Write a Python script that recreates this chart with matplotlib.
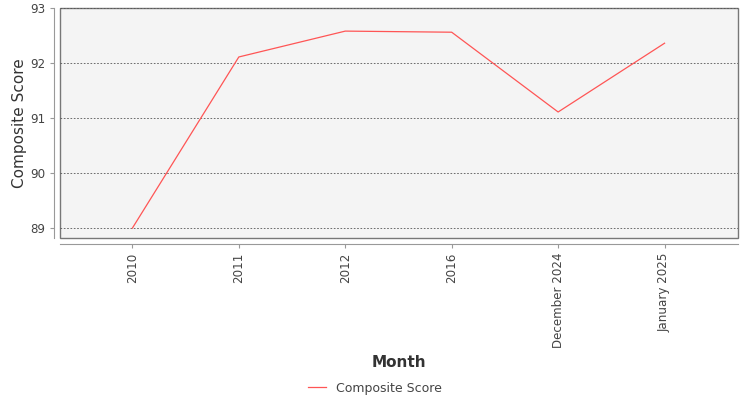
import numpy as np
import matplotlib.pyplot as plt
from matplotlib.patches import Rectangle

months = ['2010', '2011', '2012', '2016', 'December 2024', 'January 2025']
scores = [89.0, 92.11, 92.58, 92.56, 91.11, 92.36]
yticks = [89, 90, 91, 92, 93]

plt.rcParams['font.family'] = 'DejaVu Sans'

fig = plt.figure(figsize=(7.5, 4), dpi=100)
ax = fig.add_axes([0.08, 0.405, 0.904, 0.575])
ax.set_facecolor('#f4f4f4')

x = np.arange(len(months))
ax.plot(x, scores, color='#ff5555', linewidth=0.9, label='Composite Score')

ax.set_xlim(-0.68, 5.69)
ax.set_ylim(88.82, 93.0)
ax.set_yticks(yticks)
ax.set_xticks(x)
ax.set_xticklabels(months)
ax.yaxis.grid(True, linestyle=(0, (2, 2)), color='#555555', linewidth=0.6)

for s in ['top', 'right']:
    ax.spines[s].set_visible(False)
ax.spines['left'].set_position(('outward', 4))
ax.spines['bottom'].set_position(('outward', 4))
ax.spines['left'].set_color('#999999')
ax.spines['bottom'].set_color('#999999')
ax.add_patch(Rectangle((0, 0), 1, 1, transform=ax.transAxes, fill=False,
                       edgecolor='#777777', linewidth=1.0, clip_on=False))

ax.tick_params(axis='both', colors='#999999', labelcolor='#444444',
               labelsize=8.6, length=3)
ax.tick_params(axis='x', labelrotation=90)
ax.set_ylabel('Composite Score', fontsize=11, color='#333333', labelpad=2)
ax.set_xlabel('Month', fontsize=11, color='#333333', fontweight='bold', labelpad=5)

fig.legend(loc='lower center', bbox_to_anchor=(0.5, -0.015), frameon=False,
           fontsize=9, handlelength=1.5, labelcolor='#444444')

fig.savefig('out.png')
